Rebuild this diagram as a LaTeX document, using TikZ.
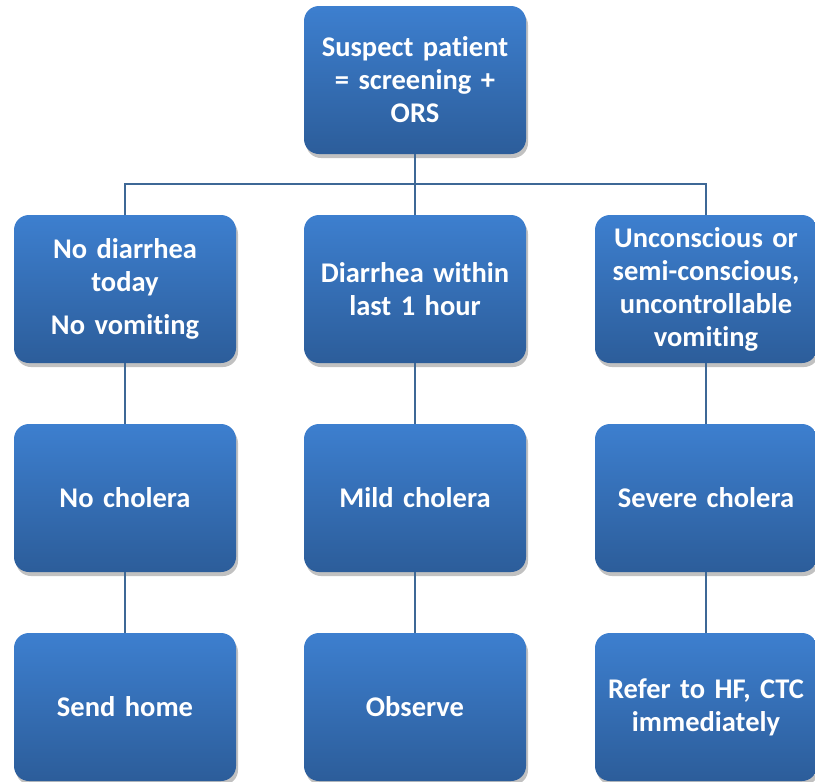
\documentclass[tikz,border=0pt]{standalone}
\usepackage{fontspec}
\setmainfont[Ligatures=NoCommon]{Carlito}
\usetikzlibrary{shadows}
\definecolor{boxtop}{HTML}{3D7FCF}
\definecolor{boxbot}{HTML}{2C5D9A}
\definecolor{linec}{HTML}{3E6896}
\tikzset{
  box/.style={rounded corners=15pt, minimum width=222pt, minimum height=148pt,
    inner sep=3pt, top color=boxtop, bottom color=boxbot, draw=none, text=white,
    font=\bfseries\fontsize{28.5}{33}\selectfont, align=center, text width=214pt,
    drop shadow={shadow xshift=2pt, shadow yshift=-4pt, opacity=0.35, fill=black!70}},
  conn/.style={draw=linec, line width=1.6pt}
}
\begin{document}
\begin{tikzpicture}[x=1pt,y=1pt]
\useasboundingbox (0,0) rectangle (815,-782);
\node[box] (top) at (415,-80) {Suspect patient\\= screening +\\ORS};
\node[box] (a1) at (125,-289) {No diarrhea\\today\\[10pt]No vomiting};
\node[box] (b1) at (415,-289) {Diarrhea within\\last 1 hour};
\node[box] (c1) at (706,-289) {Unconscious or\\semi-conscious,\\uncontrollable\\vomiting};
\node[box] (a2) at (125,-498) {No cholera};
\node[box] (b2) at (415,-498) {Mild cholera};
\node[box] (c2) at (706,-498) {Severe cholera};
\node[box] (a3) at (125,-707) {Send home};
\node[box] (b3) at (415,-707) {Observe};
\node[box] (c3) at (706,-707) {Refer to HF, CTC\\immediately};
\coordinate (j) at (415,-184);
\draw[conn] (top.south) -- (j);
\draw[conn] (a1.north) |- (j) -| (c1.north);
\draw[conn] (j) -- (b1.north);
\draw[conn] (a1) -- (a2); \draw[conn] (a2) -- (a3);
\draw[conn] (b1) -- (b2); \draw[conn] (b2) -- (b3);
\draw[conn] (c1) -- (c2); \draw[conn] (c2) -- (c3);
\end{tikzpicture}
\end{document}
